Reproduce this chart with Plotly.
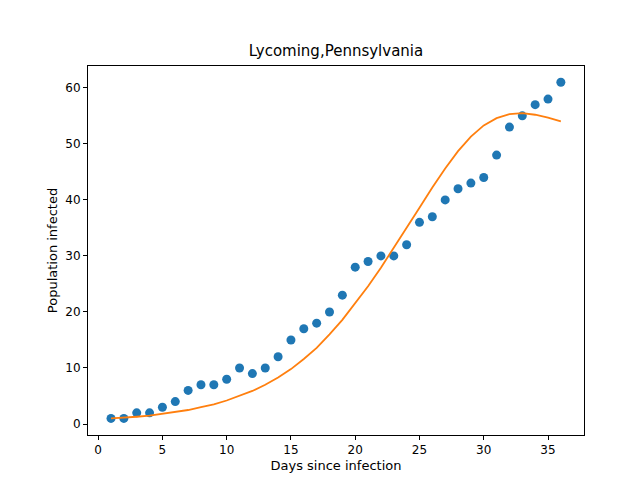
import plotly.graph_objects as go

days = list(range(1, 37))
infected = [1, 1, 2, 2, 3, 4, 6, 7, 7, 8, 10, 9, 10, 12, 15, 17, 18, 20, 23, 28,
            29, 30, 30, 32, 36, 37, 40, 42, 43, 44, 48, 53, 55, 57, 58, 61]
fit = [1.0, 1.1, 1.3, 1.5, 1.8, 2.1, 2.5, 3.0, 3.5, 4.2, 5.0, 5.9, 7.0, 8.3, 9.8,
       11.6, 13.6, 16.0, 18.6, 21.5, 24.6, 27.9, 31.4, 35.0, 38.6, 42.2, 45.6,
       48.7, 51.3, 53.3, 54.6, 55.3, 55.5, 55.2, 54.7, 54.0]

fig = go.Figure()
fig.add_trace(go.Scatter(x=days, y=infected, mode="markers",
                         marker=dict(color="#1f77b4", size=9)))
fig.add_trace(go.Scatter(x=days, y=fit, mode="lines",
                         line=dict(color="#ff7f0e", width=1.8)))

axis = dict(showgrid=False, zeroline=False, showline=True, mirror=True,
            linecolor="black", linewidth=1, ticks="outside", ticklen=4,
            tickcolor="black", tickfont=dict(size=12, color="black"),
            automargin=False)
fig.update_layout(
    width=640, height=480, showlegend=False,
    plot_bgcolor="white", paper_bgcolor="white",
    margin=dict(l=80, r=64, t=58, b=53),
    font=dict(family="DejaVu Sans", color="black"),
    title=dict(text="Lycoming,Pennsylvania", x=0.5, xanchor="center",
               xref="paper", y=0.9, yanchor="bottom", font=dict(size=15)),
    xaxis=dict(axis, range=[-0.79, 37.8], tickvals=[0, 5, 10, 15, 20, 25, 30, 35],
               title=dict(text="Days since infection", font=dict(size=13), standoff=4)),
    yaxis=dict(axis, range=[-1.96, 63.9], tickvals=[0, 10, 20, 30, 40, 50, 60],
               title=dict(text="Population infected", font=dict(size=13), standoff=4)),
)
fig.write_html("out.html")
